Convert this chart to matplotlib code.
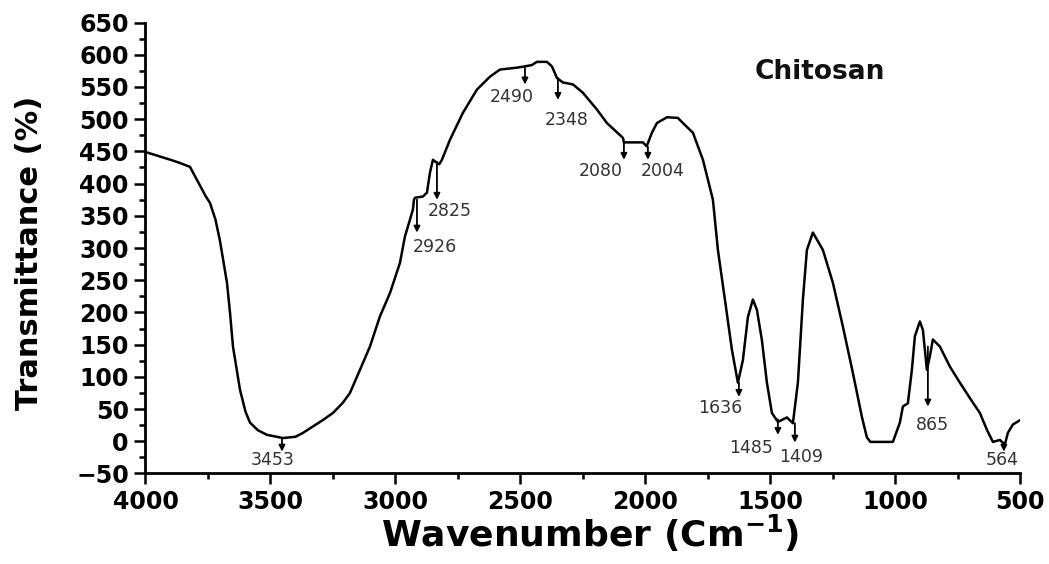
import numpy as np
import matplotlib.pyplot as plt
from matplotlib.ticker import MultipleLocator

plt.rcParams['font.family'] = 'DejaVu Sans'
plt.rcParams['mathtext.default'] = 'bf'

# FTIR spectrum of chitosan
wavenumber = [4000, 3950, 3900, 3862, 3822, 3800, 3782, 3760, 3742, 3720, 3702,
              3674, 3662, 3650, 3622, 3600, 3582, 3550, 3514, 3450, 3400, 3370,
              3290, 3250, 3210, 3182, 3142, 3102, 3062, 3022, 2982, 2962, 2942,
              2930, 2926, 2922, 2890, 2874, 2862, 2850, 2834, 2825, 2814, 2782,
              2730, 2674, 2622, 2582, 2514, 2482, 2454, 2434, 2394, 2374, 2354,
              2330, 2290, 2250, 2194, 2154, 2090, 2086, 2010, 1995, 1974, 1954,
              1914, 1870, 1850, 1810, 1770, 1730, 1710, 1682, 1654, 1630, 1610,
              1590, 1570, 1554, 1534, 1514, 1494, 1470, 1434, 1410, 1390, 1370,
              1354, 1330, 1290, 1250, 1210, 1170, 1134, 1114, 1100, 1010, 982,
              970, 950, 934, 922, 902, 890, 874, 862, 850, 822, 782, 742, 690,
              662, 634, 610, 582, 562, 550, 530, 500]
transmittance = [449, 443, 437, 432, 426, 410, 397, 381, 370, 344, 311,
                 246, 200, 147, 80, 46, 29, 17, 10, 5, 7, 13,
                 33, 44, 60, 75, 111, 147, 194, 230, 277, 318, 344,
                 360, 375, 378, 380, 386, 417, 437, 432, 430, 437, 468,
                 510, 546, 566, 577, 580, 582, 584, 589, 589, 582, 564,
                 557, 554, 541, 515, 494, 471, 464, 464, 458, 479, 494,
                 503, 502, 494, 479, 437, 375, 297, 220, 142, 91, 126,
                 193, 220, 204, 157, 91, 44, 30, 37, 28, 91, 220,
                 297, 324, 297, 246, 178, 106, 38, 6, -1, -1, 29,
                 54, 59, 111, 163, 186, 173, 111, 132, 158, 147, 116, 91, 60,
                 44, 18, -1, 2, -5, 13, 26, 33]

# marked bands: label, arrow x, arrow start/end y, label x/y
peak_labels = ['3453', '2926', '2825', '2490', '2348', '2080', '2004',
               '1636', '1485', '1409', '865', '564']
arrow_x = [3454, 2914, 2834, 2482, 2350, 2086, 1990, 1626, 1470, 1402, 870, 566]
arrow_y0 = [5, 375, 434, 582, 564, 464, 457, 91, 34, 28, 147, -5]
arrow_y1 = [-16, 324, 375, 554, 530, 437, 437, 69, 10, -2, 54, -16]
label_x = [3490, 2842, 2782, 2534, 2314, 2178, 1930, 1702, 1578, 1378, 850, 574]
label_y = [-29, 302, 357, 535, 499, 419, 419, 52, -10, -24, 26, -29]

fig = plt.figure(figsize=(10.49, 5.64), dpi=100)
ax = fig.add_axes([0.1387, 0.1605, 0.834, 0.7995])

ax.plot(wavenumber, transmittance, color='black', lw=1.8)

for lab, ax_x, y0, y1, tx, ty in zip(peak_labels, arrow_x, arrow_y0, arrow_y1,
                                      label_x, label_y):
    ax.annotate('', xy=(ax_x, y1), xytext=(ax_x, y0),
                arrowprops=dict(arrowstyle='-|>', color='black', lw=1.3,
                                mutation_scale=9, shrinkA=0, shrinkB=0))
    ax.text(tx, ty, lab, ha='center', va='center', fontsize=12.5, color='#333333')

ax.text(1302, 574, 'Chitosan', ha='center', va='center', fontsize=19,
        fontweight='bold', color='#111111')

ax.set_xlim(4000, 500)
ax.set_ylim(-50, 650)
ax.xaxis.set_major_locator(MultipleLocator(500))
ax.xaxis.set_minor_locator(MultipleLocator(250))
ax.yaxis.set_major_locator(MultipleLocator(50))
ax.yaxis.set_minor_locator(MultipleLocator(25))

for side in ['top', 'right']:
    ax.spines[side].set_visible(False)
for side in ['left', 'bottom']:
    ax.spines[side].set_linewidth(2)

ax.tick_params(which='major', direction='out', length=8, width=1.8, pad=4)
ax.tick_params(which='minor', direction='out', length=4.5, width=1.8)
for lab in ax.get_xticklabels() + ax.get_yticklabels():
    lab.set_fontsize(17)
    lab.set_fontweight('bold')

ax.set_xlabel(r'Wavenumber (Cm$^{-1}$)', fontsize=26, fontweight='bold')
ax.set_ylabel('Transmittance (%)', fontsize=22, fontweight='bold')
ax.xaxis.set_label_coords(0.508, -0.088)
ax.yaxis.set_label_coords(-0.116, 0.49)

plt.savefig('out.png', dpi=100)
